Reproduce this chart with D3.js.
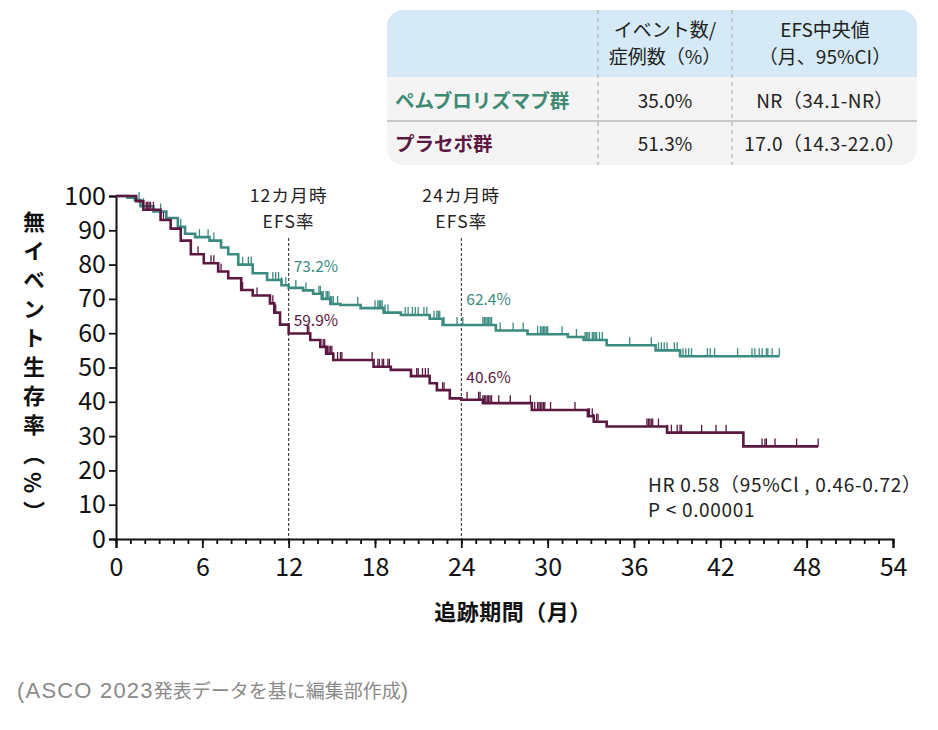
<!DOCTYPE html>
<html><head><meta charset="utf-8">
<script src="https://cdn.jsdelivr.net/npm/d3@7"></script>
<style>
body{margin:0;background:#fff;}
svg{display:block;font-family:"Noto Sans CJK JP","Noto Sans",sans-serif;}
</style></head>
<body><svg id="c" width="938" height="730"></svg>
<script>
// ---- data ----
const xTicks = [0,6,12,18,24,30,36,42,48,54];
const yTicks = [0,10,20,30,40,50,60,70,80,90,100];
const pembroSteps = [[0,100],[0.8,99.5],[1.3,98.8],[1.7,97],[2.6,95.5],[3.5,93.6],[4.3,91],[4.8,89],[5.5,88],[6.5,87],[7.3,85],[7.8,83],[8.5,80],[9.5,77.5],[10.5,75.5],[11.5,74],[12,73.2],[13,72.5],[13.7,71.5],[14.3,70],[14.9,68.5],[15.6,68.2],[17,67.3],[18.6,66],[19.8,65.3],[21.8,64.2],[22.7,62.4],[26.4,60.8],[28.6,59.7],[31.4,58.9],[32.5,58],[34.1,56.5],[37.5,55],[39.2,53.3]];
const pembroEnd = 46.1;
const pembroCensor = [1.6,1.9,3.1,4.5,5.8,6.4,6.8,7.3,7.8,8.5,8.8,9.2,9.4,10.9,11.1,11.3,11.5,11.8,12.5,13.2,14.1,14.2,14.3,14.4,14.6,14.7,14.8,14.9,15.0,15.1,15.4,16.8,18.0,18.2,18.3,18.4,18.5,18.7,18.9,20.1,20.3,20.6,20.8,21.0,21.4,21.6,22.1,22.3,22.4,22.5,22.8,23.7,24.1,25.5,25.6,25.7,25.8,25.9,26.0,26.1,26.7,27.6,28.3,29.3,29.5,29.6,29.7,29.8,29.9,30.0,31.0,32.0,32.6,32.7,32.8,32.9,33.1,33.2,33.3,33.4,33.6,33.8,35.7,37.2,37.7,37.9,38.1,38.3,38.8,39.0,39.4,39.6,39.8,40.0,41.1,41.3,41.6,43.2,44.2,44.4,44.7,44.9,45.2,45.3,45.6,46.1];
const placeboSteps = [[0,100],[1.4,98.5],[1.9,96],[3.1,93],[3.8,90.5],[4.5,87],[5.2,83],[6.1,80.4],[7.1,78],[7.8,76],[8.7,72.6],[9.5,71],[10.7,68.7],[11.0,66],[11.4,62.5],[12,59.9],[13.5,58],[14.2,56],[14.6,54],[15.1,52.2],[17.9,50.2],[19.1,49.3],[20.5,47.5],[21.8,45.4],[22.3,43.4],[23.2,41],[24,40.6],[25.5,39.6],[28.9,37.6],[32.8,35.8],[33.2,34.2],[34.1,32.8],[38.3,31],[43.6,27]];
const placeboEnd = 48.8;
const placeboCensor = [1.9,2.1,2.2,2.3,2.4,2.6,3.1,3.3,5.2,5.7,6.6,6.8,7.1,7.3,8.8,9.8,10.7,10.9,11.0,11.1,13.3,13.4,13.5,14.4,14.5,14.6,14.7,14.8,14.9,15.0,15.1,15.4,15.6,15.7,17.8,18.2,18.3,18.5,18.6,18.9,19.0,20.9,21.0,21.3,21.5,21.7,22.7,22.8,24.4,25.2,25.3,25.5,25.6,25.7,25.8,25.9,26.0,26.1,26.6,27.4,28.8,28.9,29.1,29.3,29.4,29.5,29.6,29.7,29.8,30.2,31.9,32.8,32.9,33.1,33.2,33.4,33.5,36.9,37.0,37.1,37.2,37.3,37.7,38.3,38.6,39.0,39.2,39.3,40.7,41.7,42.4,44.9,45.1,45.2,45.8,47.3,48.8];
const landmarks = [12,24];
const landmarkLabels = [["12カ月時","EFS率"],["24カ月時","EFS率"]];
const pembroLandmark = ["73.2%","62.4%"];
const placeboLandmark = ["59.9%","40.6%"];
const tableHeader = [["イベント数/","症例数（%）"],["EFS中央値","（月、95%CI）"]];
const tableRows = [["ペムブロリズマブ群","35.0%","NR（34.1-NR）"],["プラセボ群","51.3%","17.0（14.3-22.0）"]];
const hrText = ["HR 0.58（95%Cl , 0.46-0.72）","P < 0.00001"];
const yTitle = "無イベント生存率（%）";
const xTitle = "追跡期間（月）";
const footerParts = ["(ASCO 2023","発表データを基に編集部作成",")"];

const GREEN = "#3b8b80", PURPLE = "#5b1840";
const svg = d3.select("#c");
const x = d3.scaleLinear().domain([0,54]).range([116,893]);
const y = d3.scaleLinear().domain([0,100]).range([539,196]);

// ---- table ----
const T = {x:387,y:10,w:530,h:155,hh:67,r1:44};
const clip = svg.append("defs").append("clipPath").attr("id","tc");
clip.append("rect").attr("x",T.x).attr("y",T.y).attr("width",T.w).attr("height",T.h).attr("rx",16);
const tg = svg.append("g").attr("clip-path","url(#tc)");
tg.append("rect").attr("x",T.x).attr("y",T.y).attr("width",T.w).attr("height",T.h).attr("fill","#f4f4f4");
tg.append("rect").attr("x",T.x).attr("y",T.y).attr("width",T.w).attr("height",T.hh).attr("fill","#d5eaf6");
tg.append("line").attr("x1",T.x).attr("x2",T.x+T.w).attr("y1",T.y+T.hh+T.r1).attr("y2",T.y+T.hh+T.r1).attr("stroke","#c8c8c8").attr("stroke-width",2);
[598,732].forEach(cx=>tg.append("line").attr("x1",cx).attr("x2",cx).attr("y1",T.y).attr("y2",T.y+T.h).attr("stroke","#bdbdbd").attr("stroke-width",1.5).attr("stroke-dasharray","4,4"));
const colC = [665,825];
const FS = 19;
tableHeader.forEach((h,i)=>h.forEach((t,j)=>svg.append("text").attr("x",colC[i]).attr("y",37+j*27).attr("text-anchor","middle").attr("font-size",FS).attr("fill","#222").text(t)));
const rowY = [108,151];
tableRows.forEach((r,i)=>{
  svg.append("text").attr("x",395).attr("y",rowY[i]).attr("font-size",19.5).attr("font-weight","bold").attr("fill",i?PURPLE:"#3e8a72").text(r[0]);
  svg.append("text").attr("x",colC[0]).attr("y",rowY[i]).attr("text-anchor","middle").attr("font-size",FS).attr("fill","#222").text(r[1]);
  svg.append("text").attr("x",colC[1]).attr("y",rowY[i]).attr("text-anchor","middle").attr("font-size",FS).attr("fill","#222").style("letter-spacing","0.4px").text(r[2]);
});

// ---- axes ----
const ax = svg.append("g").attr("transform","translate(0,539)").call(d3.axisBottom(x).tickValues(xTicks).tickSize(9).tickPadding(10).tickFormat(d3.format("d")));
svg.append("g").attr("transform","translate(0,539)").call(d3.axisBottom(x).tickValues(d3.range(0,55,1)).tickSize(5).tickFormat("")).call(g=>g.select(".domain").remove());
const ay = svg.append("g").attr("transform","translate(116,0)").call(d3.axisLeft(y).tickValues(yTicks).tickSize(7).tickPadding(3));
[ax,ay].forEach(g=>{g.select(".domain").attr("stroke","#111").attr("stroke-width",2);g.selectAll("text").attr("font-size",25).attr("fill","#111").attr("font-family","'Noto Sans CJK JP',sans-serif");});
svg.selectAll(".tick line").attr("stroke","#111").attr("stroke-width",1.8);

// ---- landmark lines ----
landmarks.forEach((m,i)=>{
  svg.append("line").attr("x1",x(m)).attr("x2",x(m)).attr("y1",238).attr("y2",539).attr("stroke","#222").attr("stroke-width",1).attr("stroke-dasharray","3,2");
  landmarkLabels[i].forEach((t,j)=>svg.append("text").attr("x",x(m)).attr("y",202+j*26).attr("text-anchor","middle").attr("font-size",17.5).attr("fill","#222").style("letter-spacing","1.2px").text(t));
});

// ---- curves ----
function stepVal(steps,t){let v=steps[0][1];for(const s of steps){if(s[0]<=t)v=s[1];else break;}return v;}
const line = d3.line().x(d=>x(d[0])).y(d=>y(d[1])).curve(d3.curveStepAfter);
function drawCurve(steps,end,censor,color){
  const data = steps.concat([[end,steps[steps.length-1][1]]]);
  svg.append("path").datum(data).attr("d",line).attr("fill","none").attr("stroke",color).attr("stroke-width",2.6);
  svg.append("g").selectAll("line").data(censor).join("line")
    .attr("x1",d=>x(d)).attr("x2",d=>x(d)).attr("y1",d=>y(stepVal(steps,d))).attr("y2",d=>y(stepVal(steps,d))-8)
    .attr("stroke",color).attr("stroke-width",1.3);
}
drawCurve(pembroSteps,pembroEnd,pembroCensor,GREEN);
drawCurve(placeboSteps,placeboEnd,placeboCensor,PURPLE);

// landmark values
landmarks.forEach((m,i)=>{
  svg.append("text").attr("x",x(m)+5).attr("y",[272,305][i]).attr("font-size",15.5).attr("fill",GREEN).text(pembroLandmark[i]);
  svg.append("text").attr("x",x(m)+5).attr("y",[326,383][i]).attr("font-size",15.5).attr("fill",PURPLE).text(placeboLandmark[i]);
});

// HR
hrText.forEach((t,i)=>svg.append("text").attr("x",648).attr("y",492+i*25).attr("font-size",19).attr("fill","#222").style("letter-spacing","0.7px").text(t));

// axis titles
svg.append("text").attr("x",34).attr("y",211).attr("font-size",22).attr("font-weight","bold").attr("fill","#111")
  .attr("writing-mode","vertical-rl").style("letter-spacing","7px").text(yTitle);
svg.append("text").attr("x",513).attr("y",620).attr("text-anchor","middle").attr("font-size",22).attr("font-weight","bold").attr("fill","#111").style("letter-spacing","0.5px").text(xTitle);

// footer
const ft = svg.append("text").attr("x",17).attr("y",698).attr("fill","#8a8a8a");
ft.append("tspan").attr("font-family","'Liberation Sans',sans-serif").attr("font-size",22).style("letter-spacing","1.2px").text(footerParts[0]);
ft.append("tspan").attr("font-size",19).text(footerParts[1]);
ft.append("tspan").attr("font-family","'Liberation Sans',sans-serif").attr("font-size",22).text(footerParts[2]);
</script></body></html>
